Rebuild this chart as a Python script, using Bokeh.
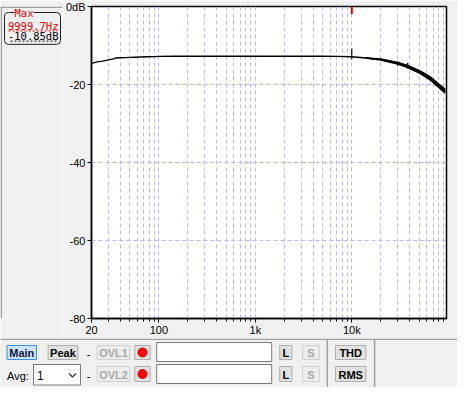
from bokeh.plotting import figure
from bokeh.models import Range1d, FixedTicker
from bokeh.layouts import column, row
from bokeh.core.properties import value
from bokeh.embed import file_html
from bokeh.resources import INLINE

# ---------------- data ----------------
freq = [20, 23, 26, 30, 33, 36, 40, 45, 50, 57, 65, 75, 90, 100, 150, 200, 300,
        500, 700, 1000, 1500, 2000, 3000, 5000, 7000, 10000, 14000, 20000, 25000,
        30000, 38000, 45000, 51000, 58000, 65000, 73000, 81000, 88000, 93000]
level = [-14.6, -14.2, -14.0, -13.7, -13.5, -13.2, -13.15, -13.1, -13.05, -13.0,
         -12.95, -12.9, -12.85, -12.8, -12.75, -12.75, -12.75, -12.75, -12.75,
         -12.75, -12.75, -12.75, -12.75, -12.75, -12.8, -12.9, -13.2, -13.6,
         -14.1, -14.55, -15.4, -16.1, -16.85, -17.6, -18.45, -19.4, -20.45,
         -21.2, -21.7]
# thickness (spread, dB) of the noisy trace at high frequencies
hf_freq = [14000, 20000, 30000, 38000, 51000, 65000, 81000, 93000]
hf_level = [-13.2, -13.6, -14.55, -15.4, -16.85, -18.45, -20.45, -21.7]
hf_spread = [0.0, 0.1, 0.2, 0.25, 0.3, 0.38, 0.42, 0.45]

spike_freq = [10000, 30000, 38000]
spike_top = [-10.85, -14.1, -14.4]
spike_bottom = [-13.5, -15.2, -15.9]

max_freq = 9999.7
max_level = -10.85

x_ticks = [20, 100, 1000, 10000]
x_tick_labels = ["20", "100", "1k", "10k"]
x_minor = [30, 40, 50, 60, 70, 80, 90, 200, 300, 400, 500, 600, 700, 800, 900,
           2000, 3000, 4000, 5000, 6000, 7000, 8000, 9000,
           20000, 30000, 40000, 50000, 60000, 70000, 80000, 90000]
y_ticks = [0, -20, -40, -60, -80]
y_tick_labels = ["0dB", "-20", "-40", "-60", "-80"]

BG = "#f0f0f0"
GRID = "#b8b8ff"

# ---------------- info box figure ----------------
info = figure(width=62, height=338, x_range=Range1d(0, 62), y_range=Range1d(338, 0),
              toolbar_location=None, output_backend="svg", min_border=0,
              x_axis_location=None, y_axis_location=None,
              border_fill_color=BG, background_fill_color=BG, outline_line_color=None)
info.grid.visible = False
info.segment(x0=[0.8, 0], y0=[0, 0.8], x1=[0.8, 62], y1=[338, 0.8],
             line_color="#a0a0a0", line_width=1.5)
info.quad(left=[4], right=[60], top=[6.5], bottom=[41], fill_color=None,
          line_color="#202020", line_width=1, border_radius=4)
info.quad(left=[14], right=[33], top=[2], bottom=[11], fill_color=BG, line_color=None)
info.text(x=[23.5], y=[7], text=["Max"], text_color="#e00000",
          text_font=value("DejaVu Sans Mono"), text_font_size="10.5px",
          text_align="center", text_baseline="middle")
info.text(x=[58, 58], y=[21, 32],
          text=[f"{max_freq}Hz", f"{max_level:.2f}dB"],
          text_color=["#e00000", "#000000"],
          text_font=value("DejaVu Sans Mono"), text_font_size="10.5px",
          text_align="right", text_baseline="middle")
info.segment(x0=[8, 10], y0=[26.5, 37.5], x1=[57, 57], y1=[26.5, 37.5],
             line_color=["#e00000", "#000000"], line_width=1, line_dash="2 2")

# ---------------- chart figure ----------------
p = figure(width=395, height=338, x_axis_type="log",
           x_range=Range1d(20, 96000), y_range=Range1d(-80, 0),
           toolbar_location=None, output_backend="svg",
           min_border_left=29, min_border_right=11, min_border_top=6, min_border_bottom=18,
           border_fill_color=BG, background_fill_color="white",
           outline_line_color="black", outline_line_width=1.5)

xa = p.xaxis[0]
xa.ticker = FixedTicker(ticks=x_ticks, minor_ticks=x_minor)
xa.major_label_overrides = {float(t): l for t, l in zip(x_ticks, x_tick_labels)}
xa.major_tick_in = 0
xa.major_tick_out = 4
xa.minor_tick_in = 0
xa.minor_tick_out = 3
xa.major_label_standoff = 1
ya = p.yaxis[0]
ya.ticker = FixedTicker(ticks=y_ticks)
ya.major_label_overrides = {float(t): l for t, l in zip(y_ticks, y_tick_labels)}
ya.major_tick_in = 0
ya.major_tick_out = 4
ya.minor_tick_out = 0
ya.minor_tick_in = 0
ya.major_label_standoff = 2
for ax in (xa, ya):
    ax.axis_line_color = "black"
    ax.axis_line_width = 1.5
    ax.major_tick_line_color = "black"
    ax.minor_tick_line_color = "black"
    ax.major_label_text_font = "Liberation Sans"
    ax.major_label_text_font_size = "11px"
    ax.major_label_text_color = "black"

p.xgrid.grid_line_color = GRID
p.xgrid.grid_line_dash = "4 3"
p.xgrid.minor_grid_line_color = GRID
p.xgrid.minor_grid_line_dash = "4 3"
p.ygrid.grid_line_color = GRID
p.ygrid.grid_line_dash = "4 3"

p.line(x=freq, y=level, line_color="black", line_width=1.4)
hf_lo = [l - s for l, s in zip(hf_level, hf_spread)]
hf_hi = [l + s for l, s in zip(hf_level, hf_spread)]
p.varea(x=hf_freq, y1=hf_lo, y2=hf_hi, fill_color="black")
p.line(x=hf_freq, y=hf_lo, line_color="black", line_width=1.6)
p.line(x=hf_freq, y=hf_hi, line_color="black", line_width=1.6)
p.segment(x0=spike_freq, y0=spike_bottom, x1=spike_freq, y1=spike_top,
          line_color="black", line_width=1.2)
p.segment(x0=[max_freq], y0=[0], x1=[max_freq], y1=[-1.9],
          line_color="#e00000", line_width=2)

# ---------------- bottom panel figure ----------------
b = figure(width=457, height=49, x_range=Range1d(0, 457), y_range=Range1d(387, 338),
           toolbar_location=None, output_backend="svg", min_border=0,
           x_axis_location=None, y_axis_location=None,
           border_fill_color=BG, background_fill_color=BG, outline_line_color=None)
b.grid.visible = False

btn_labels = ["Main", "Peak", "OVL1", "", "L", "S", "THD",
              "OVL2", "", "L", "S", "RMS"]
btn_left = [6.5, 47.6, 96.6, 134.3, 279.2, 302, 335,
            96.6, 134.3, 279.2, 302, 335]
btn_right = [36, 77.3, 129.4, 149.7, 291.4, 318.8, 365.4,
             129.4, 149.7, 291.4, 318.8, 365.4]
btn_top = [345] * 7 + [366] * 5
btn_bottom = [359] * 7 + [381] * 5
btn_fill = ["#cce4f7", "#e1e1e1", "#ececec", "#e1e1e1", "#e1e1e1", "#ececec", "#e1e1e1",
            "#ececec", "#e1e1e1", "#e1e1e1", "#ececec", "#e1e1e1"]
btn_line = ["#3c8ee0", "#adadad", "#d0d0d0", "#adadad", "#adadad", "#d0d0d0", "#adadad",
            "#d0d0d0", "#adadad", "#adadad", "#d0d0d0", "#adadad"]
btn_text = ["#102040", "#000000", "#a8a8a8", "#000000", "#000000", "#a8a8a8", "#000000",
            "#a8a8a8", "#000000", "#000000", "#a8a8a8", "#000000"]

# separators
b.segment(x0=[0, 326.8, 374.1], y0=[338.8, 338, 338], x1=[457, 326.8, 374.1], y1=[338.8, 387, 387],
          line_color="#a0a0a0", line_width=1.5)
# text boxes & dropdown
b.quad(left=[156.2, 156.2, 33], right=[271.2, 271.2, 80], top=[342, 364, 364],
       bottom=[361, 383, 384.5], fill_color="white", line_color="#7a7a7a", line_width=1)
b.quad(left=btn_left, right=btn_right, top=btn_top, bottom=btn_bottom,
       fill_color=btn_fill, line_color=btn_line, line_width=1)
b.text(x=[(l + r) / 2 for l, r in zip(btn_left, btn_right)],
       y=[(t + bo) / 2 + 0.5 for t, bo in zip(btn_top, btn_bottom)],
       text=btn_labels, text_color=btn_text, text_font=value("Liberation Sans"),
       text_font_size="11px", text_font_style="bold",
       text_align="center", text_baseline="middle")
b.scatter(x=[142, 142], y=[352, 373.5], size=9, fill_color="#ff0000", line_color="#e00000")
b.text(x=[6.5, 36.5, 86.3, 86.3], y=[375, 374.5, 353, 375],
       text=["Avg:", "1", "-", "-"], text_color="black",
       text_font=value("Liberation Sans"), text_font_size=["11px", "12px", "11px", "11px"],
       text_align="left", text_baseline="middle")
b.line(x=[68.5, 72, 75.5], y=[373, 376.5, 373], line_color="#404040", line_width=1.5)

layout = column(row(info, p), b)
open("out.html", "w").write(file_html(layout, INLINE))
